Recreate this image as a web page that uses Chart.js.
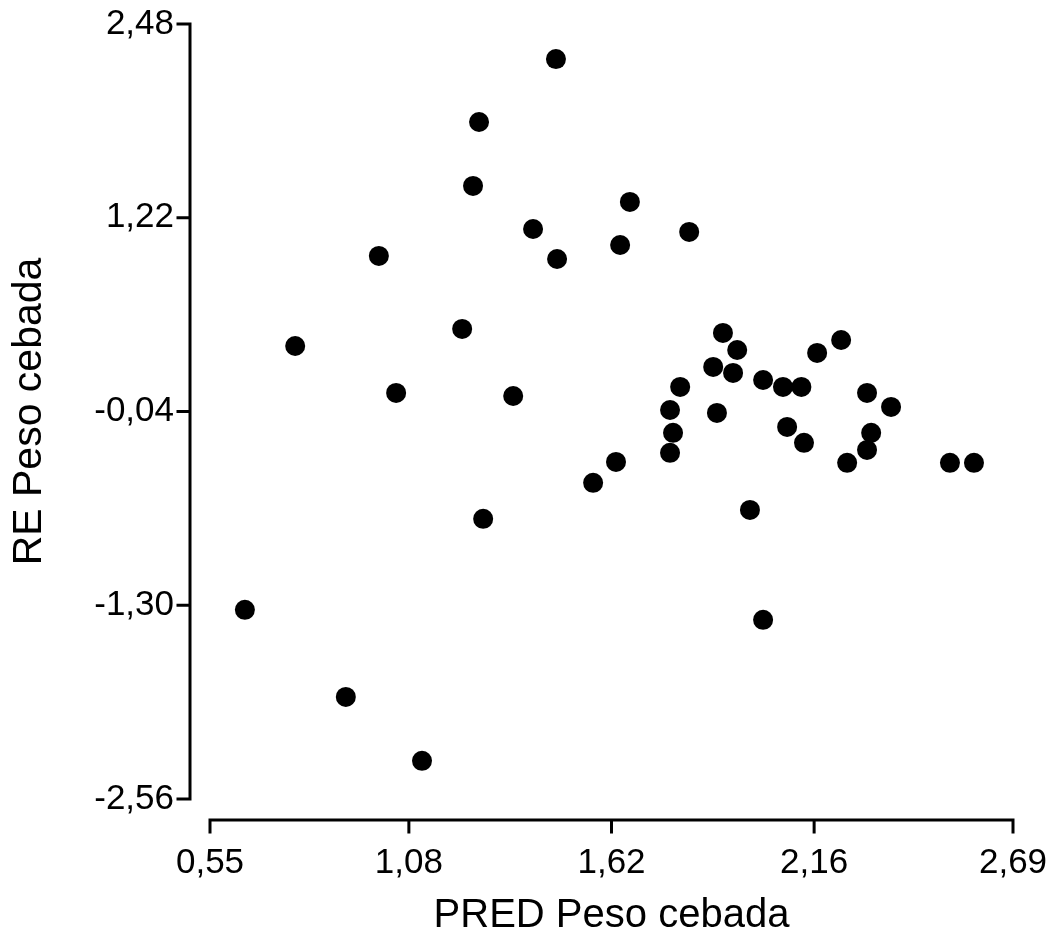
<!DOCTYPE html>
<html>
<head>
<meta charset="utf-8">
<title>RE vs PRED Peso cebada</title>
<script src="https://cdn.jsdelivr.net/npm/chart.js"></script>
<style>
  html, body { margin: 0; padding: 0; background: #fff; }
  #wrap { width: 1063px; height: 944px; position: relative; }
</style>
</head>
<body>
<div id="wrap"><canvas id="chart"></canvas></div>
<script>
// Data
const predValues = [
    0.643, 0.777, 0.912, 1.000, 1.046, 1.115, 1.222, 1.251, 1.267, 1.278,
    1.358, 1.411, 1.472, 1.475, 1.571, 1.632, 1.643, 1.669, 1.776, 1.776,
    1.784, 1.803, 1.827, 1.891, 1.901, 1.917, 1.944, 1.955, 1.989, 2.024,
    2.024, 2.077, 2.088, 2.126, 2.133, 2.168, 2.232, 2.248, 2.301, 2.301,
    2.312, 2.365, 2.522, 2.586
];
const reValues = [
    -1.330, 0.386, -1.896, 0.972, 0.081, -2.312, 0.497, 1.427, 1.843, -0.738,
    0.061, 1.147, 2.252, 0.952, -0.504, -0.368, 1.043, 1.323, -0.030, -0.309,
    -0.179, 0.120, 1.128, 0.250, -0.049, 0.471, 0.211, 0.360, -0.680, 0.165,
    -1.395, 0.120, -0.140, 0.120, -0.244, 0.341, 0.425, -0.374, 0.081, -0.290,
    -0.179, -0.010, -0.374, -0.374
];
const xTicks = [0.55, 1.08, 1.62, 2.16, 2.69];
const yTicks = [-2.56, -1.30, -0.04, 1.22, 2.48];

const FONT = 'Arial, "Liberation Sans", sans-serif';

function fmt(v) {
    return v.toFixed(2).replace('.', ',');
}

// keep the plot area exactly where layout.padding puts it
function noEdgePadding(s) {
    s.paddingTop = 0;
    s.paddingBottom = 0;
    s.paddingLeft = 0;
    s.paddingRight = 0;
}

// Detached axis lines with outward tick marks (drawn from the scales)
const offsetAxes = {
    id: 'offsetAxes',
    afterDraw(chart) {
        const ctx = chart.ctx;
        const xs = chart.scales.x;
        const ys = chart.scales.y;
        const axisX = xs.left - 20;      // vertical axis position
        const axisY = ys.bottom + 21;    // horizontal axis position
        const tick = 12;
        ctx.save();
        ctx.strokeStyle = '#000';
        ctx.lineWidth = 3;
        ctx.lineCap = 'square';

        // y axis
        const yTop = ys.getPixelForValue(yTicks[yTicks.length - 1]);
        const yBot = ys.getPixelForValue(yTicks[0]);
        ctx.beginPath();
        ctx.moveTo(axisX, yTop);
        ctx.lineTo(axisX, yBot);
        yTicks.forEach(v => {
            const p = ys.getPixelForValue(v);
            ctx.moveTo(axisX - tick, p);
            ctx.lineTo(axisX, p);
        });
        ctx.stroke();

        // x axis
        const xL = xs.getPixelForValue(xTicks[0]);
        const xR = xs.getPixelForValue(xTicks[xTicks.length - 1]);
        ctx.beginPath();
        ctx.moveTo(xL, axisY);
        ctx.lineTo(xR, axisY);
        xTicks.forEach(v => {
            const p = xs.getPixelForValue(v);
            ctx.moveTo(p, axisY);
            ctx.lineTo(p, axisY + tick);
        });
        ctx.stroke();
        ctx.restore();
    }
};

const points = predValues.map((x, i) => ({ x: x, y: reValues[i] }));

new Chart(document.getElementById('chart'), {
    type: 'scatter',
    data: {
        datasets: [{
            data: points,
            backgroundColor: '#000',
            borderColor: '#000',
            pointRadius: 10,
            pointHoverRadius: 10,
            borderWidth: 0
        }]
    },
    options: {
        responsive: true,
        maintainAspectRatio: false,
        animation: false,
        events: [],
        layout: {
            padding: { top: 24, right: 50, left: 0, bottom: 0 }
        },
        plugins: {
            legend: { display: false },
            tooltip: { enabled: false }
        },
        scales: {
            x: {
                type: 'linear',
                min: 0.55,
                max: 2.69,
                afterBuildTicks: s => { s.ticks = xTicks.map(v => ({ value: v })); },
                afterFit: s => { s.height = 145; noEdgePadding(s); },
                grid: { display: false, drawTicks: false },
                border: { display: false },
                ticks: {
                    color: '#000',
                    font: { family: FONT, size: 35 },
                    padding: 43,
                    maxRotation: 0,
                    autoSkip: false,
                    callback: v => fmt(v)
                },
                title: {
                    display: true,
                    text: 'PRED Peso cebada',
                    color: '#000',
                    font: { family: FONT, size: 40 },
                    padding: { top: 0, bottom: 4 }
                }
            },
            y: {
                type: 'linear',
                min: -2.56,
                max: 2.48,
                afterBuildTicks: s => { s.ticks = yTicks.map(v => ({ value: v })); },
                afterFit: s => { s.width = 210; noEdgePadding(s); },
                grid: { display: false, drawTicks: false },
                border: { display: false },
                ticks: {
                    color: '#000',
                    font: { family: FONT, size: 35 },
                    padding: 36,
                    autoSkip: false,
                    callback: v => fmt(v)
                },
                title: {
                    display: true,
                    text: 'RE Peso cebada',
                    color: '#000',
                    font: { family: FONT, size: 41 },
                    padding: { top: 5, bottom: 0 }
                }
            }
        }
    },
    plugins: [offsetAxes]
});
</script>
</body>
</html>
